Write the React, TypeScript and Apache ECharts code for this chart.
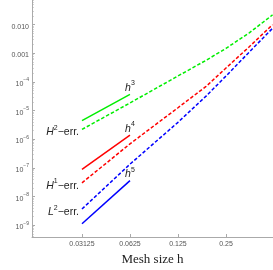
import { useEffect, useRef } from 'react';
import * as echarts from 'echarts';

// mesh sizes h at which the error curves are sampled
const meshSizes = [0.03125, 0.0625, 0.125, 0.1875, 0.25, 0.35, 0.49];
// error curves (dashed)
const h2Err = [2.2e-6, 1.85e-5, 1.62e-4, 5.7e-4, 1.49e-3, 5.2e-3, 2.2e-2];
const h1Err = [3.0e-8, 6.9e-7, 1.26e-5, 7.0e-5, 3.06e-4, 1.7e-3, 1.0e-2];
const l2Err = [3.65e-9, 1.35e-7, 3.9e-6, 3.2e-5, 1.61e-4, 1.11e-3, 7.5e-3];
// reference slopes (solid)
const refMesh = [0.03125, 0.0625];
const refH3 = [4.5e-6, 3.7e-5];
const refH4 = [8.8e-8, 1.4e-6];
const refH5 = [1.12e-9, 3.6e-8];
// axes ticks
const xTickValues = [0.03125, 0.0625, 0.125, 0.25];
const xTickLabels = ['0.03125', '0.0625', '0.125', '0.25'];
const yTickValues = [1e-2, 1e-3, 1e-4, 1e-5, 1e-6, 1e-7, 1e-8, 1e-9];
const yTickLabels = ['0.010', '0.001', '10^−4', '10^−5', '10^−6', '10^−7', '10^−8', '10^−9'];

const SANS = 'Liberation Sans';
const X_MIN = 0.015184;
const X_MAX = 0.493;
const Y_MIN = 3.86e-10;
const Y_MAX = 0.0728;

const GREEN = '#00ee00';
const RED = '#ff0000';
const BLUE = '#0000ff';

const pts = (xs: number[], ys: number[]) => xs.map((h, i) => [Math.log2(h), Math.log10(ys[i])]);

const minorY: number[] = [];
for (let e = -10; e <= -2; e++) {
  for (let m = 2; m <= 9; m++) {
    const v = Math.log10(m * Math.pow(10, e));
    if (v > Math.log10(Y_MIN) && v < Math.log10(Y_MAX)) minorY.push(v);
  }
}

const labelRich = {
  i: { fontFamily: SANS, fontStyle: 'italic', fontSize: 10.5, color: '#222', lineHeight: 13, verticalAlign: 'bottom' },
  s: { fontFamily: SANS, fontSize: 7, color: '#222', lineHeight: 7, verticalAlign: 'top' },
  n: { fontFamily: SANS, fontSize: 10.5, color: '#222', lineHeight: 13, verticalAlign: 'bottom' },
};

function withStartLabel(xs: number[], ys: number[], text: string) {
  const d: any[] = pts(xs, ys);
  d[0] = {
    value: d[0],
    label: { show: true, position: 'left', distance: 3, offset: [0, 1], formatter: text, rich: labelRich },
  };
  return d;
}
function withEndLabel(xs: number[], ys: number[], text: string) {
  const d: any[] = pts(xs, ys);
  const k = d.length - 1;
  d[k] = {
    value: d[k],
    label: { show: true, position: 'top', distance: 2, formatter: text, rich: labelRich },
  };
  return d;
}

function lineSeries(data: any[], color: string, dashed: boolean) {
  return {
    type: 'line',
    data,
    symbol: 'circle',
    symbolSize: 0,
    showSymbol: true,
    silent: true,
    emphasis: { disabled: true },
    itemStyle: { color },
    lineStyle: { color, width: 1.5, type: dashed ? [3.5, 2] : 'solid' },
  };
}

export default function App() {
  const ref = useRef<HTMLDivElement>(null);
  useEffect(() => {
    document.body.style.margin = '0';
    const chart = echarts.init(ref.current!, null, { renderer: 'svg' });
    const xAxisLabelFmt = (v: number) => {
      const i = xTickValues.findIndex((t) => Math.abs(Math.log2(t) - v) < 1e-6);
      return i >= 0 ? xTickLabels[i] : '';
    };
    const yAxisLabelFmt = (v: number) => {
      const i = yTickValues.findIndex((t) => Math.abs(Math.log10(t) - v) < 1e-6);
      if (i < 0) return '';
      const s = yTickLabels[i];
      if (s.includes('^')) {
        const [b, p] = s.split('^');
        return `{b|${b}}{p|${p}}`;
      }
      return `{b|${s}}`;
    };
    chart.setOption({
      animation: false,
      grid: { left: 32, right: 0, top: 0, bottom: 30 },
      xAxis: {
        type: 'value',
        min: Math.log2(X_MIN),
        max: Math.log2(X_MAX),
        name: 'Mesh size h',
        nameLocation: 'middle',
        nameGap: 15,
        nameTextStyle: { fontFamily: 'Liberation Serif', fontSize: 13, color: '#222' },
        axisLine: { show: true, lineStyle: { color: '#aaaaaa', width: 1 } },
        axisTick: { show: true, inside: true, length: 3, customValues: xTickValues.map((v) => Math.log2(v)), lineStyle: { color: '#aaaaaa' } },
        axisLabel: {
          customValues: xTickValues.map((v) => Math.log2(v)),
          formatter: xAxisLabelFmt,
          fontFamily: SANS,
          fontSize: 7,
          color: '#555',
          margin: 3,
        },
        splitLine: { show: false },
      },
      yAxis: [
        {
          type: 'value',
          min: Math.log10(Y_MIN),
          max: Math.log10(Y_MAX),
          axisLine: { show: true, lineStyle: { color: '#aaaaaa', width: 1 } },
          axisTick: { show: true, inside: true, length: 3, customValues: yTickValues.map((v) => Math.log10(v)), lineStyle: { color: '#aaaaaa' } },
          axisLabel: {
            customValues: yTickValues.map((v) => Math.log10(v)),
            formatter: yAxisLabelFmt,
            margin: 3,
            rich: {
              b: { fontFamily: SANS, fontSize: 7, color: '#555', lineHeight: 10, verticalAlign: 'bottom' },
              p: { fontFamily: SANS, fontSize: 5, color: '#555', lineHeight: 5, verticalAlign: 'top' },
            },
          },
          splitLine: { show: false },
        },
        {
          type: 'value',
          min: Math.log10(Y_MIN),
          max: Math.log10(Y_MAX),
          position: 'left',
          axisLine: { show: false },
          axisTick: { show: true, inside: true, length: 1.5, customValues: minorY, lineStyle: { color: '#aaaaaa' } },
          axisLabel: { show: false },
          splitLine: { show: false },
        },
      ],
      series: [
        lineSeries(withStartLabel(meshSizes, h2Err, '{i|H}{s|2}{n|−err.}'), GREEN, true),
        lineSeries(withStartLabel(meshSizes, h1Err, '{i|H}{s|1}{n|−err.}'), RED, true),
        lineSeries(withStartLabel(meshSizes, l2Err, '{i|L}{s|2}{n|−err.}'), BLUE, true),
        lineSeries(withEndLabel(refMesh, refH3, '{i|h}{s|3}'), GREEN, false),
        lineSeries(withEndLabel(refMesh, refH4, '{i|h}{s|4}'), RED, false),
        lineSeries(withEndLabel(refMesh, refH5, '{i|h}{s|5}'), BLUE, false),
      ],
    });
    return () => chart.dispose();
  }, []);
  return <div ref={ref} style={{ position: 'fixed', left: 0, top: 0, width: 273, height: 270 }} />;
}
